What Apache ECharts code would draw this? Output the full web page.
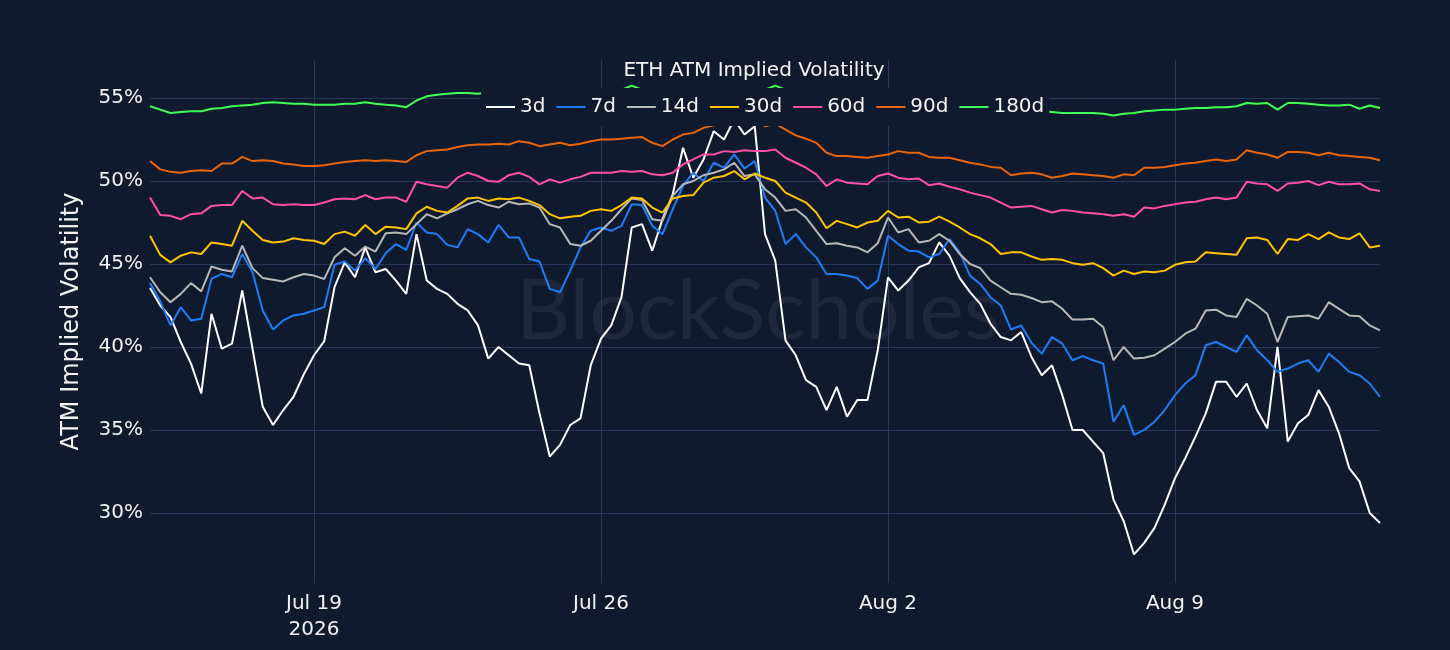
<!DOCTYPE html>
<html>
<head>
<meta charset="utf-8">
<title>ETH ATM Implied Volatility</title>
<script src="https://cdn.jsdelivr.net/npm/echarts@6/dist/echarts.min.js"></script>
<style>
  html, body { margin: 0; padding: 0; background: #101a2e; }
  #chart { width: 1450px; height: 650px; }
</style>
</head>
<body>
<div id="chart"></div>
<script>
// samples every 6 hours, Jul 15 2026 00:00 UTC -> Aug 14 2026 00:00 UTC
const startTime = Date.UTC(2026, 6, 15, 0, 0);
const stepHours = 6;

const tenors = ['3d', '7d', '14d', '30d', '60d', '90d', '180d'];
const tenorColors = ['#ffffff', '#1e7df5', '#b8b8b8', '#ffc400', '#ff4fa8', '#e8650a', '#40ff55'];

const vol3d = [
  43.55, 42.5, 41.8, 40.3, 39.0, 37.2, 42.0, 39.9, 40.2, 43.4,
  39.9, 36.4, 35.3, 36.2, 37.0, 38.35, 39.5, 40.35, 43.6, 45.1,
  44.2, 46.0, 44.5, 44.7, 44.0, 43.2, 46.8, 44.0, 43.5, 43.2,
  42.6, 42.2, 41.3, 39.3, 40.0, 39.5, 39.0, 38.9, 36.0, 33.4,
  34.1, 35.3, 35.7, 38.9, 40.5, 41.3, 43.0, 47.2, 47.4, 45.8,
  47.7, 49.2, 52.0, 50.2, 51.3, 53.0, 52.5, 53.7, 52.8, 53.3,
  46.8, 45.2, 40.4, 39.5, 38.0, 37.6, 36.2, 37.6, 35.8, 36.8,
  36.8, 39.8, 44.2, 43.4, 44.0, 44.8, 45.05, 46.3, 45.5, 44.15,
  43.3, 42.6, 41.4, 40.6, 40.4, 40.9, 39.4, 38.3, 38.9, 37.1,
  35.0, 35.0, 34.3, 33.6, 30.8, 29.5, 27.5, 28.2, 29.1, 30.5,
  32.1, 33.3, 34.6, 36.0, 37.9, 37.9, 37.0, 37.8, 36.2, 35.1,
  40.0, 34.3, 35.4, 35.9, 37.4, 36.4, 34.8, 32.7, 31.9, 30.0,
  29.4
];
const vol7d = [
  43.85, 42.75, 41.3, 42.4, 41.6, 41.7, 44.1, 44.4, 44.2, 45.6,
  44.5, 42.2, 41.05, 41.6, 41.9, 42.0, 42.2, 42.4, 44.95, 45.15,
  44.6, 45.35, 44.7, 45.65, 46.2, 45.85, 47.5, 46.9, 46.8, 46.15,
  46.0, 47.1, 46.8, 46.3, 47.35, 46.6, 46.6, 45.3, 45.15, 43.5,
  43.3, 44.6, 46.0, 47.0, 47.2, 47.0, 47.3, 48.6, 48.55, 47.3,
  46.8, 48.3, 49.7, 50.5, 50.0, 51.1, 50.8, 51.6, 50.75, 51.2,
  49.0, 48.2, 46.2, 46.8, 46.0, 45.4, 44.4, 44.4, 44.3, 44.15,
  43.5, 44.0, 46.7, 46.2, 45.8, 45.75, 45.4, 45.6, 46.5, 45.7,
  44.3, 43.8, 43.0, 42.5, 41.05, 41.3, 40.25, 39.6, 40.6, 40.2,
  39.2, 39.45, 39.2, 39.0, 35.5, 36.5, 34.7, 35.0, 35.5, 36.2,
  37.1, 37.8, 38.3, 40.1, 40.3, 40.0, 39.7, 40.7, 39.8, 39.2,
  38.5, 38.7, 39.0, 39.2, 38.5, 39.6, 39.1, 38.5, 38.3, 37.8,
  37.0
];
const vol14d = [
  44.2, 43.3, 42.7, 43.2, 43.85, 43.35, 44.85, 44.65, 44.55, 46.1,
  44.75, 44.15, 44.05, 43.95, 44.2, 44.4, 44.3, 44.1, 45.4, 45.95,
  45.5, 46.05, 45.75, 46.85, 46.9, 46.8, 47.4, 48.0, 47.75, 48.05,
  48.3, 48.6, 48.8, 48.55, 48.4, 48.75, 48.6, 48.65, 48.4, 47.4,
  47.2, 46.2, 46.1, 46.4, 47.0, 47.6, 48.3, 48.95, 48.85, 47.7,
  47.6, 49.1, 49.8, 50.0, 50.35, 50.5, 50.7, 51.1, 50.3, 50.4,
  49.5, 49.0, 48.2, 48.3, 47.8, 47.0, 46.2, 46.25, 46.1, 46.0,
  45.7, 46.25, 47.8, 46.9, 47.1, 46.3, 46.4, 46.8, 46.4, 45.6,
  45.0, 44.75, 44.0, 43.6, 43.2, 43.15, 42.95, 42.7, 42.75, 42.3,
  41.65, 41.65, 41.7, 41.2, 39.2, 40.0, 39.3, 39.35, 39.5, 39.9,
  40.3, 40.8, 41.1, 42.2, 42.25, 41.9, 41.8, 42.9, 42.5, 42.0,
  40.3, 41.8, 41.85, 41.9, 41.7, 42.7, 42.3, 41.9, 41.85, 41.3,
  41.0
];
const vol30d = [
  46.7, 45.55, 45.1, 45.5, 45.7, 45.6, 46.3, 46.2, 46.1, 47.6,
  47.0, 46.45, 46.3, 46.35, 46.55, 46.45, 46.4, 46.2, 46.8, 46.95,
  46.7, 47.35, 46.8, 47.25, 47.2, 47.1, 48.05, 48.45, 48.2, 48.1,
  48.5, 48.95, 49.0, 48.8, 48.95, 48.9, 49.0, 48.8, 48.55, 48.0,
  47.75, 47.85, 47.9, 48.2, 48.3, 48.2, 48.55, 49.0, 48.95, 48.4,
  48.1, 48.95, 49.1, 49.15, 49.9, 50.2, 50.3, 50.6, 50.1, 50.45,
  50.2, 50.0, 49.3, 49.0, 48.7, 48.1, 47.15, 47.6, 47.4, 47.2,
  47.5, 47.6, 48.2, 47.8, 47.85, 47.5, 47.55, 47.85, 47.55, 47.2,
  46.8, 46.55, 46.2, 45.6, 45.7, 45.7, 45.45, 45.25, 45.3, 45.25,
  45.05, 44.95, 45.05, 44.75, 44.3, 44.6, 44.4, 44.55, 44.5, 44.6,
  44.95, 45.1, 45.15, 45.7, 45.65, 45.6, 45.55, 46.55, 46.6, 46.45,
  45.6, 46.5, 46.45, 46.8, 46.5, 46.9, 46.6, 46.5, 46.85, 46.0,
  46.1
];
const vol60d = [
  49.0, 47.95, 47.9, 47.7, 48.0, 48.05, 48.5, 48.55, 48.55, 49.4,
  48.95, 49.0, 48.6, 48.55, 48.6, 48.55, 48.55, 48.7, 48.9, 48.95,
  48.9, 49.15, 48.9, 49.0, 49.0, 48.75, 49.95, 49.8, 49.7, 49.6,
  50.2, 50.5, 50.3, 50.0, 49.95, 50.35, 50.5, 50.25, 49.8, 50.1,
  49.9, 50.1, 50.25, 50.5, 50.5, 50.5, 50.6, 50.55, 50.6, 50.4,
  50.35, 50.5, 51.0, 51.3, 51.6, 51.6, 51.8, 51.75, 51.85, 51.8,
  51.8, 51.9, 51.4, 51.1, 50.8, 50.4, 49.7, 50.1, 49.9, 49.85,
  49.8, 50.3, 50.45, 50.2, 50.1, 50.15, 49.75, 49.85, 49.65, 49.5,
  49.3, 49.15, 49.0, 48.7, 48.4, 48.45, 48.5, 48.3, 48.1, 48.25,
  48.2, 48.1, 48.05, 48.0, 47.9, 48.0, 47.85, 48.4, 48.35, 48.5,
  48.6, 48.7, 48.75, 48.9, 49.0, 48.9, 49.0, 49.95, 49.85, 49.8,
  49.4, 49.85, 49.9, 50.0, 49.75, 49.95, 49.8, 49.8, 49.85, 49.5,
  49.4
];
const vol90d = [
  51.2, 50.7, 50.55, 50.5, 50.6, 50.65, 50.6, 51.05, 51.05, 51.45,
  51.2, 51.25, 51.2, 51.05, 51.0, 50.9, 50.9, 50.95, 51.05, 51.15,
  51.2, 51.25, 51.2, 51.25, 51.2, 51.15, 51.55, 51.8, 51.85, 51.9,
  52.05, 52.15, 52.2, 52.2, 52.25, 52.2, 52.4, 52.3, 52.1, 52.2,
  52.3, 52.15, 52.25, 52.4, 52.5, 52.5, 52.55, 52.6, 52.65, 52.3,
  52.1, 52.5, 52.8, 52.9, 53.2, 53.35, 53.5, 53.6, 53.7, 53.65,
  53.3, 53.45, 53.1, 52.75, 52.55, 52.3, 51.7, 51.5, 51.5, 51.45,
  51.4, 51.5, 51.6, 51.8, 51.7, 51.7, 51.45, 51.4, 51.4, 51.25,
  51.1, 51.0, 50.85, 50.8, 50.35, 50.45, 50.5, 50.4, 50.2, 50.3,
  50.45, 50.4, 50.35, 50.3, 50.2, 50.4, 50.35, 50.8, 50.8, 50.85,
  50.95, 51.05, 51.1, 51.2, 51.3, 51.2, 51.3, 51.85, 51.7, 51.6,
  51.4, 51.75, 51.75, 51.7, 51.55, 51.7, 51.55, 51.5, 51.45, 51.4,
  51.25
];
const vol180d = [
  54.5, 54.3, 54.1, 54.15, 54.2, 54.2, 54.35, 54.4, 54.5, 54.55,
  54.6, 54.7, 54.75, 54.7, 54.65, 54.65, 54.6, 54.6, 54.6, 54.65,
  54.65, 54.75, 54.65, 54.6, 54.55, 54.45, 54.85, 55.1, 55.2, 55.25,
  55.3, 55.3, 55.25, 55.35, 55.4, 55.4, 55.45, 55.5, 55.5, 55.5,
  55.5, 55.5, 55.5, 55.5, 55.5, 55.5, 55.5, 55.75, 55.5, 55.5,
  55.5, 55.5, 55.5, 55.5, 55.5, 55.5, 55.5, 55.5, 55.5, 55.5,
  55.5, 55.75, 55.5, 55.5, 55.45, 55.4, 55.3, 55.2, 55.1, 55.0,
  54.95, 54.9, 54.9, 54.85, 54.8, 54.75, 54.7, 54.6, 54.55, 54.5,
  54.45, 54.4, 54.35, 54.3, 54.3, 54.25, 54.2, 54.2, 54.15, 54.1,
  54.1, 54.1, 54.1, 54.05, 53.95, 54.05, 54.1, 54.2, 54.25, 54.3,
  54.3, 54.35, 54.4, 54.4, 54.45, 54.45, 54.5, 54.7, 54.65, 54.7,
  54.3, 54.7, 54.7, 54.65, 54.6, 54.55, 54.55, 54.6, 54.35, 54.55,
  54.4
];
const seriesValues = [vol3d, vol7d, vol14d, vol30d, vol60d, vol90d, vol180d];

const tickDates = [Date.UTC(2026, 6, 19), Date.UTC(2026, 6, 26), Date.UTC(2026, 7, 2), Date.UTC(2026, 7, 9)];
const tickLabels = ['Jul 19\n2026', 'Jul 26', 'Aug 2', 'Aug 9'];
const yTicks = [30, 35, 40, 45, 50, 55];

const bg = '#101a2e';
const gridColor = '#26375a';
const textColor = '#f2f2f2';
const font = 'DejaVu Sans';

document.addEventListener('DOMContentLoaded', function() {
    const chart = echarts.init(document.getElementById('chart'));
    const stepMs = stepHours * 3600 * 1000;
    const endTime = startTime + (vol3d.length - 1) * stepMs;

    const series = tenors.map(function(name, k) {
        return {
            name: name,
            type: 'line',
            symbol: 'none',
            lineStyle: { width: 2, color: tenorColors[k] },
            itemStyle: { color: tenorColors[k] },
            data: seriesValues[k].map(function(v, i) { return [startTime + i * stepMs, v]; })
        };
    });

    const option = {
        backgroundColor: bg,
        animation: false,
        title: {
            text: 'ETH ATM Implied Volatility',
            left: 754,
            top: 61,
            padding: 0,
            textAlign: 'center',
            textStyle: { color: textColor, fontSize: 20, fontWeight: 'normal', fontFamily: font }
        },
        legend: {
            data: tenors,
            left: 481,
            top: 88,
            padding: [9, 5, 9, 5],
            backgroundColor: bg,
            icon: 'rect',
            itemWidth: 29,
            itemHeight: 2,
            itemGap: 11,
            textStyle: { color: textColor, fontSize: 20, fontFamily: font }
        },
        graphic: [{
            type: 'text',
            left: 516,
            top: 270,
            silent: true,
            z: 0,
            style: {
                text: 'BlockScholes',
                fontSize: 84,
                fontFamily: 'Lato',
                fill: 'rgba(200, 205, 215, 0.08)'
            }
        }],
        grid: { left: 150, right: 70, top: 60, bottom: 67 },
        xAxis: {
            // time values in ms on a plain value axis so the ticks can sit on the week marks
            type: 'value',
            min: startTime,
            max: endTime,
            axisLine: { show: false },
            axisTick: { show: false, customValues: tickDates },
            splitLine: { show: true, lineStyle: { color: gridColor, width: 1 } },
            axisLabel: {
                customValues: tickDates,
                color: textColor,
                fontSize: 20,
                fontFamily: font,
                lineHeight: 26,
                margin: 8,
                formatter: function(value) {
                    let best = 0;
                    for (let i = 1; i < tickDates.length; i++) {
                        if (Math.abs(tickDates[i] - value) < Math.abs(tickDates[best] - value)) best = i;
                    }
                    return tickLabels[best];
                }
            }
        },
        yAxis: {
            type: 'value',
            min: 25.78,
            max: 57.29,
            name: 'ATM Implied Volatility',
            nameLocation: 'middle',
            nameGap: 66,
            nameTextStyle: { color: textColor, fontSize: 24, fontFamily: font },
            axisLine: { show: false },
            axisTick: { show: false, customValues: yTicks },
            splitLine: { show: true, lineStyle: { color: gridColor, width: 1 } },
            axisLabel: {
                customValues: yTicks,
                color: textColor,
                fontSize: 20,
                fontFamily: font,
                margin: 7,
                formatter: function(v) { return v + '%'; }
            }
        },
        series: series
    };

    chart.setOption(option);

    window.addEventListener('resize', function() {
        chart.resize();
    });
});
</script>
</body>
</html>
